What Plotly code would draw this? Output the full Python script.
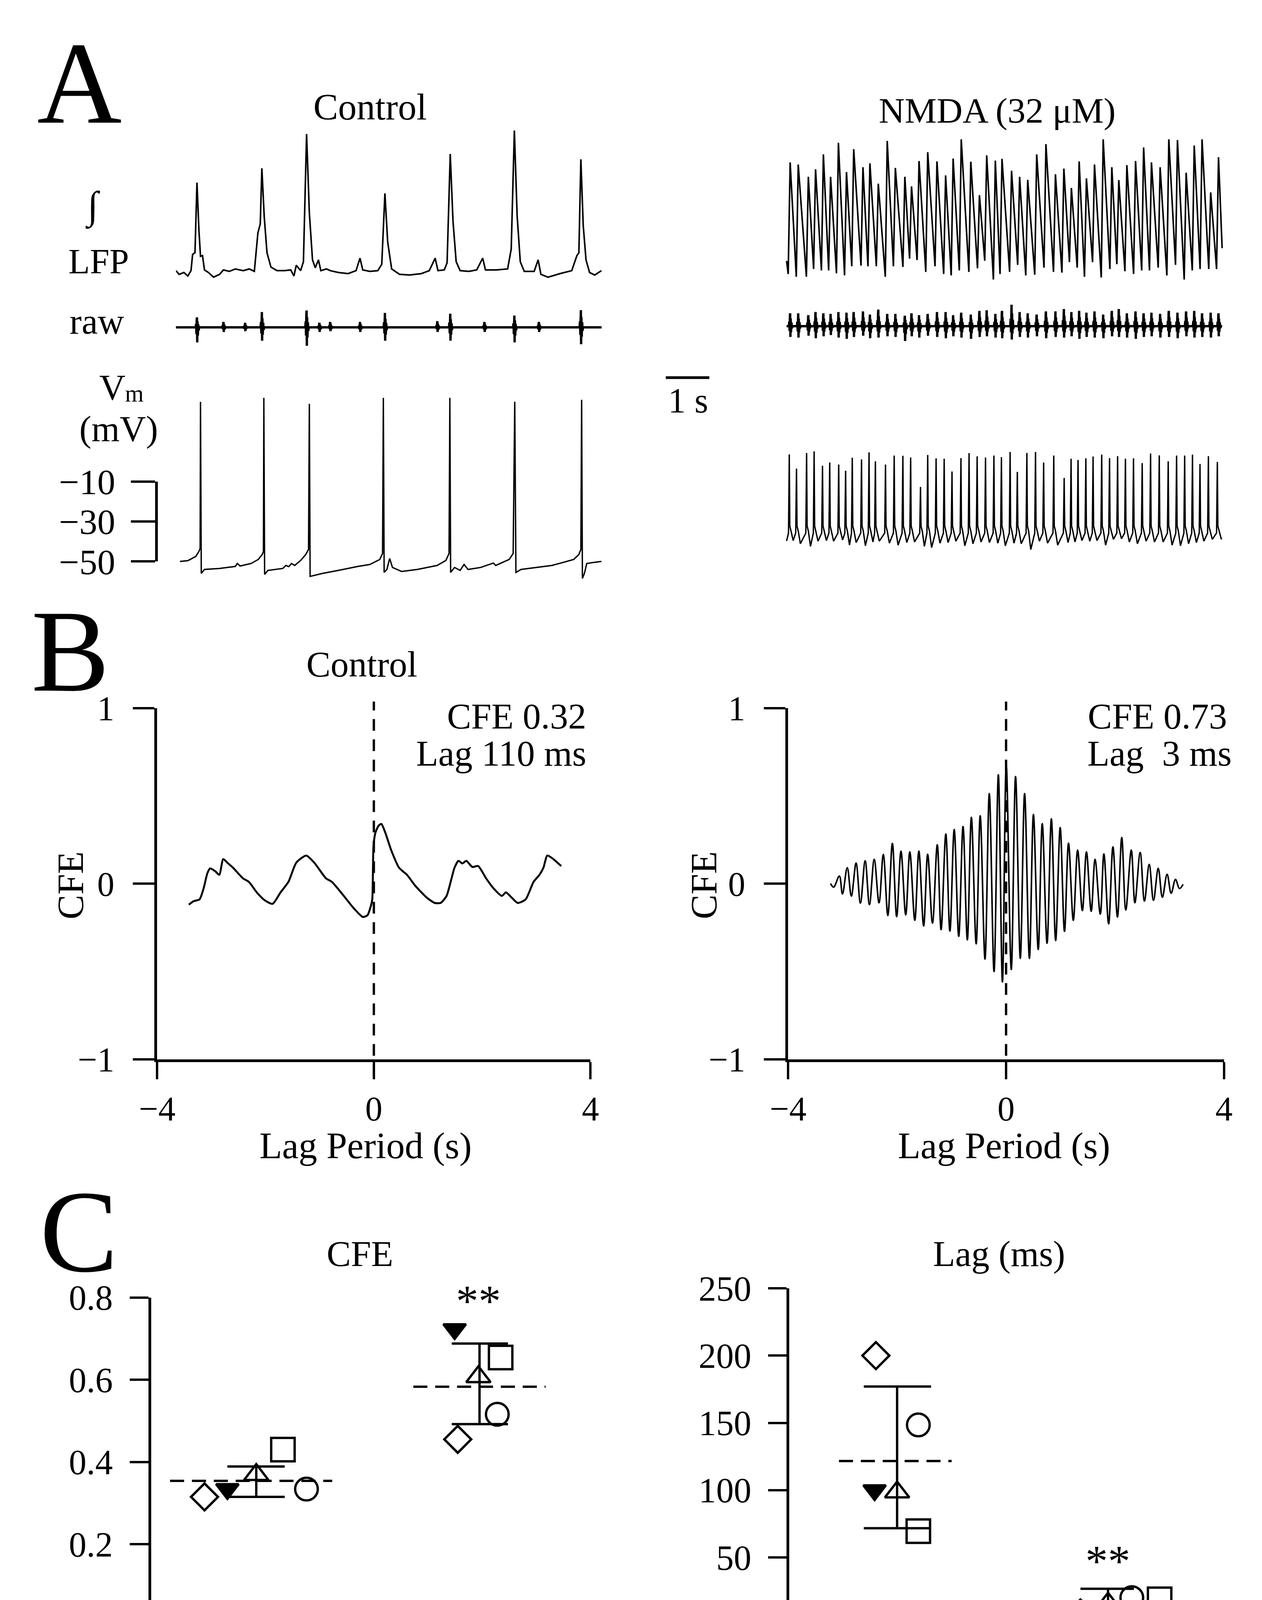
import plotly.graph_objects as go

W, H = 3230, 5804
FONT = "Liberation Serif"

# ============================ DATA ============================
# ---- Panel A, Control: integrated LFP (time s, a.u.) ----
ctrl_lfp = [(0.000, 0.013), (0.073, -0.013), (0.183, 0.0), (0.275, -0.025), (0.348, 0.013), (0.385, 0.127),
            (0.440, 0.139), (0.486, 0.633), (0.531, 0.300), (0.568, 0.114), (0.614, 0.119), (0.660, 0.018),
            (0.751, 0.0), (0.870, -0.033), (1.008, -0.013), (1.099, 0.018), (1.237, 0.008), (1.374, 0.025),
            (1.557, 0.013), (1.695, 0.025), (1.814, 0.008), (1.896, 0.278), (1.951, 0.342), (1.988, 0.734),
            (2.043, 0.392), (2.107, 0.139), (2.198, 0.038), (2.336, 0.013), (2.519, 0.013), (2.656, 0.018),
            (2.730, -0.025), (2.785, 0.051), (2.885, 0.013), (2.950, 0.076), (3.023, 0.975), (3.087, 0.420),
            (3.160, 0.089), (3.224, 0.033), (3.298, 0.089), (3.353, 0.013), (3.481, 0.025), (3.572, 0.013),
            (3.756, 0.0), (3.985, -0.008), (4.168, 0.013), (4.259, 0.101), (4.323, 0.018), (4.488, 0.008),
            (4.672, 0.013), (4.763, 0.058), (4.836, 0.557), (4.900, 0.215), (4.992, 0.025), (5.175, -0.013),
            (5.404, -0.018), (5.679, -0.008), (5.862, 0.013), (5.999, 0.101), (6.064, 0.013), (6.210, 0.018),
            (6.275, 0.068), (6.348, 0.835), (6.412, 0.360), (6.485, 0.076), (6.577, 0.013), (6.778, 0.008),
            (6.961, 0.018), (7.099, 0.101), (7.163, 0.018), (7.420, 0.018), (7.676, 0.025), (7.759, 0.165),
            (7.832, 1.000), (7.896, 0.400), (7.969, 0.076), (8.061, 0.008), (8.290, 0.008), (8.382, 0.089),
            (8.446, -0.013), (8.611, -0.033), (8.886, -0.008), (9.160, 0.013), (9.279, 0.119), (9.325, 0.139),
            (9.371, 0.797), (9.426, 0.330), (9.490, 0.089), (9.572, 0.0), (9.691, -0.018), (9.847, 0.013)]
# Control raw extracellular bursts (time s, upward, downward deflection a.u.)
ctrl_raw_events = [(0.486, 0.65, 0.98), (1.988, 1.00, 0.87), (3.023, 1.10, 1.20), (4.836, 0.94, 0.87),
                   (6.348, 0.89, 0.87), (7.832, 0.77, 0.98), (9.371, 1.12, 1.10),
                   (1.10, 0.35, 0.30), (1.60, 0.30, 0.25), (3.32, 0.30, 0.30), (3.57, 0.35, 0.25),
                   (4.26, 0.35, 0.30), (6.05, 0.40, 0.30), (7.14, 0.35, 0.30), (8.40, 0.35, 0.30)]
# Control membrane potential (time s, mV)
ctrl_vm = [(0.092, -50.0), (0.275, -49.6), (0.458, -47.5), (0.531, -45.0), (0.559, -43.5), (0.568, 30.0),
           (0.586, -56.0), (0.660, -54.0), (1.008, -53.5), (1.374, -52.5), (1.420, -51.0), (1.484, -52.3),
           (1.740, -51.0), (1.905, -49.0), (1.997, -46.5), (2.024, -45.0), (2.034, 32.0), (2.052, -56.5),
           (2.125, -54.5), (2.473, -53.5), (2.546, -52.0), (2.611, -52.6), (2.675, -51.0), (2.748, -52.0),
           (2.885, -49.5), (3.004, -46.5), (3.068, -44.0), (3.087, 29.0), (3.105, -57.5), (3.389, -56.0),
           (3.756, -54.5), (4.214, -52.5), (4.488, -51.5), (4.717, -49.0), (4.781, -46.0), (4.800, 32.0),
           (4.818, -55.5), (4.882, -54.0), (4.946, -48.5), (5.011, -53.0), (5.221, -55.0), (5.588, -54.0),
           (6.046, -52.0), (6.247, -49.5), (6.320, -46.0), (6.339, 32.0), (6.357, -55.5), (6.448, -53.0),
           (6.577, -54.5), (6.668, -51.5), (6.760, -54.0), (7.053, -53.0), (7.346, -50.8), (7.401, -52.0),
           (7.713, -49.0), (7.804, -46.0), (7.841, 30.0), (7.868, -55.5), (7.987, -54.0), (8.336, -53.0),
           (8.702, -52.0), (8.958, -50.5), (9.206, -49.0), (9.325, -46.5), (9.371, -44.0), (9.389, 31.0),
           (9.407, -58.5), (9.453, -56.0), (9.508, -51.0), (9.664, -50.5), (9.847, -50.0)]
vm_scale_mv = [-50, -30, -10]
vm_scale_text = ["\u221250", "\u221230", "\u221210"]

# ---- Panel A, NMDA: LFP cycles (peak time s, peak a.u., trough before peak a.u.) ----
nmda_lfp_cycles = [
    (0.082, 0.833, 0.025), (0.269, 0.818, 0.005), (0.503, 0.729, 0.005), (0.670, 0.783, 0.061),
    (0.851, 0.891, 0.051), (1.018, 0.729, 0.051), (1.199, 0.975, 0.030), (1.386, 0.763, 0.015),
    (1.553, 0.929, 0.081), (1.767, 0.798, 0.086), (1.928, 0.826, 0.081), (2.122, 0.679, 0.081),
    (2.329, 0.988, 0.005), (2.517, 0.793, 0.081), (2.737, 0.729, 0.076), (2.891, 0.659, 0.136),
    (3.065, 0.843, 0.126), (3.266, 0.907, 0.040), (3.480, 0.840, 0.081), (3.680, 0.739, 0.025),
    (3.854, 0.861, 0.015), (4.042, 1.000, 0.051), (4.263, 0.838, 0.040), (4.463, 0.596, 0.066),
    (4.631, 0.884, 0.121), (4.831, 0.846, -0.015), (4.985, 0.859, 0.025), (5.206, 0.773, 0.040),
    (5.393, 0.729, 0.091), (5.580, 0.707, 0.015), (5.788, 0.891, 0.020), (6.002, 0.965, 0.071),
    (6.222, 0.747, 0.040), (6.417, 0.788, 0.035), (6.591, 0.648, 0.111), (6.771, 0.840, 0.071),
    (6.939, 0.717, 0.005), (7.126, 0.818, 0.111), (7.327, 1.000, 0.000), (7.527, 0.798, 0.061),
    (7.688, 0.705, 0.096), (7.875, 0.813, 0.045), (8.076, 0.843, 0.025), (8.263, 0.941, 0.051),
    (8.444, 0.833, 0.051), (8.645, 0.798, 0.071), (8.846, 1.000, 0.015), (9.046, 0.995, 0.091),
    (9.247, 0.758, -0.015), (9.434, 0.955, 0.051), (9.615, 1.000, 0.061), (9.815, 0.616, 0.061),
    (9.996, 0.871, 0.061)]
nmda_lfp_start = (0.0, 0.12)
nmda_lfp_end = (10.08, 0.212)
# NMDA raw burst deflections for each LFP cycle (up, down; a.u.)
nmda_raw_amp = [
    (1.02, 0.85), (1.02, 0.90), (0.87, 0.75), (1.12, 0.95), (1.02, 0.80), (0.97, 0.70), (1.12, 0.90),
    (1.07, 1.00), (1.12, 0.85), (1.17, 0.75), (0.92, 0.95), (1.31, 0.90), (0.97, 0.80), (0.97, 0.85),
    (0.83, 1.17), (1.02, 0.80), (0.87, 0.90), (0.97, 0.75), (1.12, 0.85), (1.12, 0.95), (0.87, 0.80),
    (1.07, 0.90), (0.92, 1.00), (1.21, 0.85), (1.26, 0.80), (0.97, 0.90), (1.21, 0.95), (1.70, 1.05),
    (1.12, 0.85), (1.02, 0.90), (0.92, 0.80), (1.17, 0.95), (1.17, 0.85), (1.36, 0.90), (1.12, 0.80),
    (1.21, 1.00), (1.07, 0.85), (1.17, 0.90), (0.92, 0.95), (1.21, 0.80), (1.36, 0.85), (1.02, 0.90),
    (1.17, 1.00), (1.02, 0.85), (1.07, 0.80), (0.97, 0.90), (1.21, 0.85), (1.07, 0.95), (1.17, 0.80),
    (1.21, 0.90), (1.02, 0.85), (1.07, 0.90), (1.02, 0.80)]
# NMDA membrane potential cycles (spike time s, spike peak mV, trough after mV)
nmda_vm_cycles = [
    (0.062, 2.9, -40.3), (0.229, -4.2, -41.9), (0.463, 3.6, -43.2), (0.637, 4.4, -40.6), (0.831, -2.8, -40.3),
    (0.998, -1.2, -40.6), (1.206, -2.2, -40.0), (1.366, -5.3, -42.6), (1.520, 1.2, -41.3), (1.734, 0.4, -42.9),
    (1.908, 3.9, -41.0), (2.055, -0.6, -40.6), (2.289, -2.2, -41.6), (2.490, 2.3, -42.6), (2.691, 2.2, -41.3),
    (2.871, 1.3, -41.0), (3.099, -13.4, -43.2), (3.266, 2.6, -43.8), (3.460, 0.9, -41.6), (3.647, 0.7, -41.3),
    (3.828, -5.7, -40.6), (4.035, 1.0, -42.9), (4.223, 3.5, -41.9), (4.410, 1.9, -41.0), (4.604, 1.3, -41.3),
    (4.798, 2.3, -41.6), (4.972, 1.5, -42.9), (5.173, 4.1, -41.6), (5.340, -5.9, -41.9), (5.561, 3.6, -44.8),
    (5.761, 4.1, -40.6), (5.949, -1.2, -41.6), (6.183, 2.3, -42.6), (6.424, -8.9, -41.3), (6.584, 0.7, -41.0),
    (6.745, 0.1, -40.3), (6.926, 0.9, -40.6), (7.093, 1.8, -40.3), (7.293, 2.8, -42.6), (7.474, 1.0, -39.7),
    (7.661, 2.0, -39.4), (7.842, 0.7, -41.0), (8.029, 0.9, -41.9), (8.230, -1.5, -40.6), (8.424, 3.3, -41.0),
    (8.625, 2.4, -41.0), (8.832, -0.6, -42.6), (9.026, 2.3, -42.9), (9.213, 2.3, -41.9), (9.394, 2.8, -41.3),
    (9.568, -1.9, -40.6), (9.762, 2.0, -39.7), (9.969, -0.9, -39.4)]
nmda_vm_start = (0.0, -40.5)
nmda_vm_end = (10.08, -39.4)

# ---- Panel B: cross-correlograms (lag s, CFE) ----
ccf_ctrl = [(-3.416, -0.12), (-3.328, -0.10), (-3.219, -0.09), (-3.146, -0.03), (-3.073, 0.06), (-3.022, 0.087),
            (-2.927, 0.07), (-2.854, 0.05), (-2.781, 0.14), (-2.708, 0.12), (-2.599, 0.09), (-2.416, 0.03),
            (-2.307, 0.01), (-2.161, -0.05), (-2.015, -0.095), (-1.869, -0.115), (-1.723, -0.05), (-1.577, 0.01),
            (-1.431, 0.12), (-1.248, 0.16), (-1.102, 0.12), (-0.883, 0.03), (-0.774, 0.01), (-0.555, -0.07),
            (-0.372, -0.14), (-0.204, -0.19), (-0.117, -0.18), (-0.058, -0.13), (-0.029, -0.09), (-0.007, 0.21),
            (0.029, 0.29), (0.088, 0.33), (0.139, 0.34), (0.212, 0.29), (0.321, 0.19), (0.467, 0.09),
            (0.613, 0.05), (0.759, -0.01), (0.978, -0.08), (1.124, -0.11), (1.234, -0.11), (1.343, -0.07),
            (1.489, 0.09), (1.562, 0.13), (1.635, 0.115), (1.708, 0.13), (1.818, 0.095), (1.927, 0.10),
            (2.073, 0.03), (2.219, -0.03), (2.365, -0.07), (2.438, -0.05), (2.547, -0.08), (2.657, -0.11),
            (2.803, -0.09), (2.949, 0.01), (3.058, 0.05), (3.131, 0.09), (3.204, 0.16), (3.314, 0.14),
            (3.460, 0.10)]
ccf_nmda = [(-3.222, 0.0), (-3.165, -0.020), (-3.060, 0.043), (-3.003, -0.059), (-2.915, 0.091), (-2.840, -0.071),
            (-2.753, 0.117), (-2.674, -0.111), (-2.586, 0.130), (-2.508, -0.120), (-2.420, 0.138), (-2.332, -0.109),
            (-2.253, 0.166), (-2.170, -0.182), (-2.087, 0.229), (-2.008, -0.188), (-1.929, 0.185), (-1.842, -0.178),
            (-1.767, 0.181), (-1.675, -0.209), (-1.601, 0.185), (-1.513, -0.241), (-1.439, 0.167), (-1.351, -0.225),
            (-1.263, 0.221), (-1.193, -0.262), (-1.106, 0.282), (-1.031, -0.270), (-0.952, 0.308), (-0.869, -0.300),
            (-0.790, 0.325), (-0.711, -0.320), (-0.637, 0.377), (-0.549, -0.343), (-0.475, 0.386), (-0.387, -0.430),
            (-0.308, 0.513), (-0.221, -0.501), (-0.142, 0.620), (-0.067, -0.560), (0.003, 0.680), (0.095, -0.489),
            (0.174, 0.610), (0.261, -0.426), (0.340, 0.513), (0.428, -0.426), (0.502, 0.394), (0.590, -0.375),
            (0.664, 0.341), (0.752, -0.339), (0.831, 0.369), (0.910, -0.324), (0.993, 0.319), (1.072, -0.272),
            (1.146, 0.230), (1.234, -0.209), (1.313, 0.191), (1.400, -0.154), (1.475, 0.181), (1.562, -0.158),
            (1.633, 0.138), (1.729, -0.174), (1.795, 0.169), (1.882, -0.229), (1.961, 0.209), (2.044, -0.190),
            (2.123, 0.262), (2.197, -0.150), (2.298, 0.191), (2.364, -0.109), (2.461, 0.177), (2.539, -0.099),
            (2.627, 0.109), (2.705, -0.095), (2.793, 0.087), (2.868, -0.078), (2.955, 0.053), (3.030, -0.055),
            (3.109, 0.024), (3.183, -0.028), (3.249, -0.004)]

# ---- Panels C, D, E: per-preparation values (order of subjects below) ----
subjects = ["diamond", "tri_down", "tri_up", "square", "circle"]
groups = ["Control", "NMDA"]
cfe_ctrl = [0.315, 0.334, 0.369, 0.430, 0.334]
cfe_nmda = [0.455, 0.723, 0.607, 0.654, 0.516]
cfe_stats = [(0.354, 0.315, 0.389), (0.583, 0.492, 0.688)]          # mean, lower, upper
lag_ctrl = [200.0, 100.0, 98.6, 69.6, 148.5]
lag_nmda = [8.8, 4.8, 16.0, 19.0, 20.2]
lag_stats = [(121.7, 71.8, 177.0), (14.3, 5.9, 26.8)]
lfp_dur = [32.2, 39.2, 38.9, 46.1, 46.5]
lfp_dur_stats = (41.4, 35.9, 49.3)
ap_jit = [9.8, 20.5, 26.9, 12.0, 3.9]
ap_jit_stats = (15.0, 6.0, 23.8)
ir_ctrl = [50.5, 48.4, 76.3, 52.6, 45.7]
ir_nmda = [11.0, 8.3, 12.2, 9.3, 8.6]
ir_stats = [(54.8, 39.2, 68.0), (9.6, 8.2, 11.0)]

# ---- Panel D traces ----
d_ctrl_lfp = [(0, 0), (92.9, 0.055), (111.9, 0.072), (127.8, 0.176), (137.1, 0.300), (145.0, 0.397),
              (156.1, 0.691), (164.0, 0.886), (173.3, 1.0), (181.3, 0.919), (194.1, 0.756), (206.5, 0.577),
              (222.4, 0.397), (241.4, 0.235), (263.5, 0.137), (288.7, 0.072), (320.1, 0.039), (345.3, 0.033)]
d_ctrl_spike_t = [42.2, 50.9, 76.2, 90.8, 101.5, 105.4, 107.7, 110.3, 112.6, 115.2, 116.8, 121.7, 124.2,
                  126.5, 134.0, 148.3, 154.1, 160.6, 170.3]
d_ctrl_spike_mv = [19.1, 20.0, 14.7, 18.2, 15.6, 20.9, 22.7, 20.0, 21.8, 22.7, 18.2, 15.6, 13.8, 21.8, 22.7,
                   16.5, 19.1, 20.0, 18.2]
d_ctrl_rest_mv = [-55.5, -54.0, -56.5, -55.0, -54.5, -56.0, -55.0, -53.5, -55.5, -56.0, -54.5, -55.0, -56.5,
                  -54.0, -55.5, -55.0, -56.0, -54.5, -55.0]
d_ctrl_late_mv = [-59.0, -62.5, -58.5, -61.0, -63.5, -60.0, -61.5, -58.0, -62.0, -63.0, -60.0, -63.5, -59.0,
                  -61.0, -62.0, -60.0, -63.0, -60.5, -58.5]
d_nmda_lfp = [(0, 0), (12.9, 0.019), (24.1, -0.019), (30.6, 0.038), (37.0, 0.094), (45.0, 0.208), (49.9, 0.377),
              (54.8, 0.566), (59.5, 0.755), (64.4, 0.906), (70.7, 1.0), (77.3, 0.906), (88.5, 0.717),
              (101.4, 0.528), (114.3, 0.396), (127.1, 0.302), (140.0, 0.189), (148.0, 0.094)]
d_nmda_vm = [(0, -55.0), (13.0, -54.1), (29.2, -51.5), (42.2, -48.8), (47.0, -44.4), (50.3, -30.3),
             (53.5, -21.5), (56.8, -18.8), (60.0, -20.6), (63.3, -26.8), (68.1, -37.4), (74.6, -46.2),
             (84.3, -51.5), (94.1, -54.1), (107.1, -55.9), (120.0, -57.6), (131.4, -58.5)]
d_nmda_dt = [0, -2, 2, -3.5, 3, 1, -1, 3.5, -3, 2, 0, 3.8, -2, 1]
d_nmda_dp = [0, 2, -2, 1.5, -1, 3, -3, 0.5, 1, -2, 2.5, -1.5, 0, 1]
d_nmda_db = [0, 1, -1, 0.5, -0.5, 1.5, -1.5, 0.8, -0.8, 0.3, -0.3, 1.2, -1.2, 0.6]
d_nmda_dd = [0, 2, 5, 1, 8, 3, 0, 10, 2, 4, 6, 1, 3, 12]

# ============================ LAYOUT HELPERS ============================
layout = dict(width=W, height=H, margin=dict(l=0, r=0, t=0, b=0), paper_bgcolor="white",
              plot_bgcolor="rgba(0,0,0,0)", showlegend=False,
              font=dict(family=FONT, color="black"))
traces, annotations, shapes = [], [], []
HIDDEN = dict(visible=False, showgrid=False, zeroline=False, fixedrange=True)
_n = [0]


def calib(p0, v0, p1, v1, pa, pb):
    k = (v1 - v0) / (p1 - p0)
    return [v0 + (pa - p0) * k, v0 + (pb - p0) * k]


def add_axes(xpx, xcal, ypx, ycal, xstyle=None, ystyle=None):
    _n[0] += 1
    s = "" if _n[0] == 1 else str(_n[0])
    xa = dict(HIDDEN) if xstyle is None else dict(xstyle)
    ya = dict(HIDDEN) if ystyle is None else dict(ystyle)
    xa.update(domain=[xpx[0] / W, xpx[1] / W], range=calib(*xcal, xpx[0], xpx[1]), anchor="y" + s)
    ya.update(domain=[1 - ypx[1] / H, 1 - ypx[0] / H], range=calib(*ycal, ypx[1], ypx[0]), anchor="x" + s)
    layout["xaxis" + s] = xa
    layout["yaxis" + s] = ya
    return "x" + s, "y" + s


def vis(ticklen, tickvals, ticktext, size=88, lw=7, standoff=None, labels=True):
    d = dict(visible=True, showline=True, linecolor="black", linewidth=lw, ticks="outside", ticklen=ticklen,
             tickwidth=lw - 1, tickcolor="black", showgrid=False, zeroline=False, tickmode="array",
             tickvals=tickvals, ticktext=ticktext, tickfont=dict(family=FONT, size=size, color="black"),
             fixedrange=True, showticklabels=labels)
    if standoff is not None:
        d["ticklabelstandoff"] = standoff
    return d


def line(ax, xs, ys, width=4, dash=None, shape="linear", smoothing=1.0):
    ln = dict(color="black", width=width, shape=shape)
    if dash:
        ln["dash"] = dash
    if shape == "spline":
        ln["smoothing"] = smoothing
    traces.append(go.Scatter(x=xs, y=ys, xaxis=ax[0], yaxis=ax[1], mode="lines", line=ln, hoverinfo="skip"))


def txt(x, y, s, size=92, xanchor="center", yanchor="middle", angle=0):
    annotations.append(dict(x=x / W, y=1 - y / H, xref="paper", yref="paper", text=s, showarrow=False,
                            font=dict(family=FONT, size=size, color="black"), xanchor=xanchor,
                            yanchor=yanchor, textangle=angle))


def vm_label(x, y, size):
    # "V" with a lowered, smaller "m" (subscript) drawn as two plain texts
    txt(x, y, "V", size=size)
    txt(x + 0.62 * size, y + 0.17 * size, "m", size=0.66 * size)


def unzip(pairs):
    return [p[0] for p in pairs], [p[1] for p in pairs]


BURST = [(-0.030, 0.0, 0.0), (-0.020, 0.35, 0.0), (-0.012, 0.0, -0.45), (-0.005, 0.8, 0.0), (0.0, 1.0, 0.0),
         (0.006, 0.0, -1.0), (0.012, 0.6, 0.0), (0.020, 0.0, -0.55), (0.030, 0.3, 0.0), (0.040, 0.0, -0.2),
         (0.050, 0.0, 0.0)]


def raw_xy(events, t0, t1):
    xs, ys = [t0], [0.0]
    for t, up, dn in sorted(events):
        for dt, fu, fd in BURST:
            xs.append(t + dt)
            ys.append(fu * up + fd * dn)
    xs.append(t1)
    ys.append(0.0)
    return xs, ys


SYM = {"diamond": ("diamond", False), "tri_down": ("triangle-down", True), "tri_up": ("triangle-up", False),
       "square": ("square", False), "circle": ("circle", False)}


def group(ax, cat, values, stats, st, sizes, lw):
    mean, lo, hi = stats
    line(ax, [cat + st["mean"][0], cat + st["mean"][1]], [mean, mean], width=lw, dash="36px,20px")
    bx = cat + st["bar"]
    ch, cl = st["cap_hi"], st["cap_lo"]
    line(ax, [bx, bx, None, cat + ch[0], cat + ch[1], None, cat + cl[0], cat + cl[1]],
         [lo, hi, None, hi, hi, None, lo, lo], width=lw)
    for s, v, o in zip(subjects, values, st["off"]):
        sym, filled = SYM[s]
        traces.append(go.Scatter(
            x=[cat + o], y=[v], xaxis=ax[0], yaxis=ax[1], mode="markers", hoverinfo="skip",
            marker=dict(symbol=sym, size=sizes[s], color="black" if filled else "rgba(0,0,0,0)",
                        line=dict(color="black", width=lw))))


LETTER = 300

# ============================ PANEL A ============================
ax = add_axes((404, 1520), (404, 0, 517, 1.0), (250, 700), (651, 0, 281, 1.0))
line(ax, *unzip(ctrl_lfp), width=4)
ax = add_axes((380, 1540), (404, 0, 517, 1.0), (730, 860), (794, 0, 754, 1.0))
line(ax, *raw_xy(ctrl_raw_events, 0.0, 9.85), width=6)
ax = add_axes((404, 1520), (404, 0, 517, 1.0), (950, 1460), (1404, -50, 1196, -10))
line(ax, *unzip(ctrl_vm), width=3.5)
ax = add_axes((357, 420), (357, 0, 420, 1), (1196, 1404), (1404, -50, 1196, -10),
              ystyle=vis(62, vm_scale_mv, vm_scale_text, size=92, lw=7, standoff=22))
traces.append(go.Scatter(x=[0.5], y=[-30], xaxis=ax[0], yaxis=ax[1], mode="markers",
                         marker=dict(opacity=0), hoverinfo="skip"))

ax = add_axes((1990, 3160), (2001, 0, 2114, 1.0), (280, 700), (664, 0, 304, 1.0))
xs, ys = [nmda_lfp_start[0]], [nmda_lfp_start[1]]
for tp, vp, vt in nmda_lfp_cycles:
    xs += [tp - 0.045, tp]
    ys += [vt, vp]
xs.append(nmda_lfp_end[0])
ys.append(nmda_lfp_end[1])
line(ax, xs, ys, width=4)

ax = add_axes((1990, 3160), (2001, 0, 2114, 1.0), (735, 850), (791, 0, 758, 1.0))
ev = [(c[0], a[0], a[1]) for c, a in zip(nmda_lfp_cycles, nmda_raw_amp)]
line(ax, *raw_xy(ev, 0.0, 10.08), width=6)

ax = add_axes((1990, 3160), (2001, 0, 2114, 1.0), (1080, 1400), (1348, -40, 1244, -20))
xs, ys = [nmda_vm_start[0]], [nmda_vm_start[1]]
for tp, vp, vt in nmda_vm_cycles:
    xs += [tp - 0.018, tp, tp + 0.012, tp + 0.04, tp + 0.09]
    ys += [-36.5, vp, -33.0, -35.5, vt]
xs.append(nmda_vm_end[0])
ys.append(nmda_vm_end[1])
line(ax, xs, ys, width=3.5)

# 1 s time bar
ax = add_axes((1670, 1815), (1685, 0, 1799, 1.0), (900, 950), (925, 0, 825, 1.0))
line(ax, [0, 1], [0, 0], width=7)

txt(152, 158, "A", size=LETTER)
txt(911, 220, "Control", size=95)
txt(2552, 229, "NMDA (32 \u03bcM)", size=92)
txt(186, 478, "\u222b", size=100)
txt(202, 622, "LFP", size=90)
txt(197, 778, "raw", size=93)
vm_label(238, 950, 93)
txt(254, 1058, "(mV)", size=93)
txt(1744, 985, "1 s", size=90)

# ============================ PANEL B ============================
bx_style = vis(44, [-4, 0, 4], ["\u22124", "0", "4"], size=88, lw=7)
by_style = vis(55, [-1, 0, 1], ["\u22121", "0", "1"], size=88, lw=7, standoff=30)
axL = add_axes((355, 1488), (355, -4, 1488, 4), (1786, 2701), (2701, -1, 1786, 1), bx_style, by_style)
line(axL, *unzip(ccf_ctrl), width=5, shape="spline", smoothing=0.6)
axR = add_axes((2005, 3145), (2005, -4, 3145, 4), (1786, 2701), (2701, -1, 1786, 1), bx_style, by_style)
line(axR, *unzip(ccf_nmda), width=4, shape="spline", smoothing=1.0)
for a in (axL, axR):
    shapes.append(dict(type="line", xref=a[0], yref="paper", x0=0, x1=0, y0=1 - 2745 / H, y1=1 - 1769 / H,
                       line=dict(color="black", width=6, dash="30px,22px")))

txt(128, 1638, "B", size=LETTER)
txt(890, 1672, "Control", size=93)
txt(1480, 1807, "CFE 0.32", size=93, xanchor="right")
txt(1480, 1904, "Lag 110 ms", size=93, xanchor="right")
txt(3155, 1807, "CFE 0.73", size=93, xanchor="right")
txt(3167, 1904, "Lag\u00a0\u00a03 ms", size=93, xanchor="right")
txt(129, 2248, "CFE", size=95, angle=-90)
txt(1786, 2248, "CFE", size=95, angle=-90)
txt(900, 2926, "Lag Period (s)", size=95)
txt(2569, 2926, "Lag Period (s)", size=95)

# ============================ PANEL C ============================
BIG = {"diamond": 53, "tri_down": 50, "tri_up": 54, "square": 60, "circle": 58}
SMALL = {"diamond": 48, "tri_down": 42, "tri_up": 44, "square": 42, "circle": 46}

cx = vis(42, [1, 2], groups, size=93, lw=7)
cy = vis(48, [0, 0.2, 0.4, 0.6, 0.8], ["0", "0.2", "0.4", "0.6", "0.8"], size=90, lw=7, standoff=25)
ax = add_axes((339, 1485), (614, 1, 1195, 2), (3322, 4179), (4179, 0, 3322, 0.8), cx, cy)
group(ax, 1, cfe_ctrl, cfe_stats[0],
      dict(off=[-0.233, -0.13, 0.0, 0.12, 0.226], mean=(-0.388, 0.342), bar=0.0,
           cap_hi=(-0.13, 0.128), cap_lo=(-0.13, 0.128)), BIG, 6)
group(ax, 2, cfe_nmda, cfe_stats[1],
      dict(off=[-0.093, -0.107, 0.0, 0.10, 0.085], mean=(-0.293, 0.302), bar=0.005,
           cap_hi=(-0.12, 0.133), cap_lo=(-0.12, 0.133)), BIG, 6)

cx2 = vis(46, [1, 2], groups, size=93, lw=7)
cy2 = vis(47, [0, 50, 100, 150, 200, 250], ["0", "50", "100", "150", "200", "250"], size=90, lw=7, standoff=25)
ax = add_axes((2008, 3162), (2290, 1, 2845, 2), (3298, 4175), (4175, 0, 3298, 250), cx2, cy2)
group(ax, 1, lag_ctrl, lag_stats[0],
      dict(off=[-0.10, -0.106, 0.0, 0.10, 0.10], mean=(-0.274, 0.257), bar=0.0,
           cap_hi=(-0.157, 0.16), cap_lo=(-0.157, 0.16)), BIG, 6)
group(ax, 2, lag_nmda, lag_stats[1],
      dict(off=[-0.136, -0.276, -0.006, 0.237, 0.106], mean=(-0.463, 0.507), bar=-0.006,
           cap_hi=(-0.136, 0.116), cap_lo=(-0.136, 0.116)), BIG, 6)

txt(150, 3150, "C", size=LETTER)
txt(885, 3208, "CFE", size=93)
txt(2557, 3208, "Lag (ms)", size=93)
txt(1195, 3331, "**", size=115)
txt(2841, 4009, "**", size=115)

# ============================ PANEL D ============================
ax = add_axes((200, 760), (222, 0, 372, 100), (4530, 4830), (4812, 0, 4553, 1))
line(ax, *unzip(d_ctrl_lfp), width=4.5)

ax = add_axes((250, 810), (264, 0, 414, 100), (4840, 5290), (5215, -55, 5120, -35))
for ts, top, rest, late in zip(d_ctrl_spike_t, d_ctrl_spike_mv, d_ctrl_rest_mv, d_ctrl_late_mv):
    h1 = max(ts + 40, 180)
    h2 = max(ts + 70, 215)
    pts = [(0, rest), (ts - 14, rest + 0.8), (ts - 3, rest + 3.5), (ts - 0.6, rest + 6), (ts, top),
           (ts + 1.0, -60), (ts + 3, -64.5), (ts + 10, -65.0), (ts + 25, -63.0), (h1, late + 3.5),
           (h2, late + 1.0), (352, late)]
    line(ax, *unzip(pts), width=3.5)

ax = add_axes((365, 615), (378, 0, 528, 100), (5300, 5560), (5543, 0, 5323, 1))
line(ax, *unzip(d_nmda_lfp), width=4.5)

ax = add_axes((380, 605), (393, 0, 543, 100), (5490, 5710), (5687, -55, 5592, -35))
for dt, dp, db, dd in zip(d_nmda_dt, d_nmda_dp, d_nmda_db, d_nmda_dd):
    xs, ys = [], []
    for i, (t, v) in enumerate(d_nmda_vm):
        xs.append(t + (dt if 4 <= i <= 12 else 0) + (dd if 9 <= i <= 12 else 0))
        ys.append(v + db + (dp if 6 <= i <= 8 else 0))
    line(ax, xs, ys, width=4)

# 20 mV / 100 s scale bar
ax = add_axes((670, 860), (688, 0, 838, 100), (4990, 5125), (5107, 0, 5012, 20))
line(ax, [0, 100, 100], [0, 0, 20], width=6)

dx1 = vis(40, [1], ["LFP duration"], size=85, lw=6, labels=False)
dy1 = vis(41, [30, 40, 50], ["30", "40", "50"], size=86, lw=6, standoff=16)
ax = add_axes((1066, 1485), (1283, 1, 1683, 2), (4694, 4994), (4940, 30, 4694, 50), dx1, dy1)
group(ax, 1, lfp_dur, lfp_dur_stats,
      dict(off=[0.057, 0.047, -0.111, -0.008, 0.168], mean=(-0.402, 0.414), bar=0.057,
           cap_hi=(-0.109, 0.245), cap_lo=(-0.109, 0.245)), SMALL, 5)

dx2 = vis(40, [1], ["AP jitter"], size=85, lw=6, labels=False)
dy2 = vis(41, [0, 15, 30], ["0", "15", "30"], size=86, lw=6, standoff=16)
ax = add_axes((1092, 1496), (1342, 1, 1742, 2), (5298, 5621), (5621, 0, 5298, 30), dx2, dy2)
group(ax, 1, ap_jit, ap_jit_stats,
      dict(off=[-0.018, 0.013, -0.277, -0.251, 0.176], mean=(-0.51, 0.305), bar=-0.065,
           cap_hi=(-0.342, 0.137), cap_lo=(-0.251, 0.254)), SMALL, 5)

txt(168, 4475, "D", size=LETTER)
txt(233, 4697, "\u222bLFP", size=105)
txt(704, 4848, "Control", size=93)
vm_label(142, 5091, 92)
txt(678, 5046, "20 mV", size=92)
txt(704, 5165, "100 s", size=92)
txt(240, 5386, "\u222bLFP", size=105)
vm_label(142, 5620, 92)
txt(696, 5599, "NMDA", size=92)
txt(1299, 4585, "% control", size=93)
txt(1278, 5098, "LFP duration", size=87)
txt(1294, 5715, "AP jitter", size=86)

# ============================ PANEL E ============================
ex = vis(34, [1, 2], groups, size=86, lw=6)
ey = vis(49, [0, 20, 40, 60, 80, 100], ["0", "20", "40", "60", "80", "100"], size=86, lw=6, standoff=30)
ax = add_axes((2013, 3157), (2278, 1, 2867, 2), (4655, 5594), (5594, 0, 4655, 100), ex, ey)
group(ax, 1, ir_ctrl, ir_stats[0],
      dict(off=[-0.139, 0.142, 0.0035, 0.293, 0.0], mean=(-0.27, 0.40), bar=0.0035,
           cap_hi=(-0.134, 0.139), cap_lo=(-0.116, 0.153)), BIG, 6)
group(ax, 2, ir_nmda, ir_stats[1],
      dict(off=[0.29, 0.0, -0.29, -0.146, 0.14], mean=(-0.343, 0.369), bar=-0.07,
           cap_hi=(-0.17, 0.03), cap_lo=(-0.17, 0.03)), BIG, 6)

txt(1816, 4466, "E", size=LETTER)
txt(2598, 4670, "LFP\u00a0\u00a0IR Score", size=92)
txt(2867, 5386, "***", size=107)

layout["annotations"] = annotations
layout["shapes"] = shapes
fig = go.Figure(data=traces, layout=go.Layout(**layout))
fig.write_html("out.html")
